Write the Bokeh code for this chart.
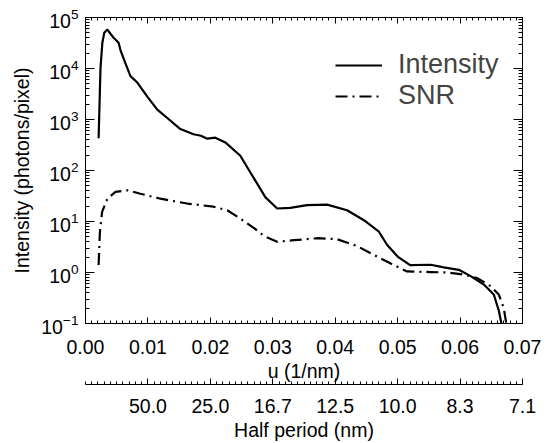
from bokeh.plotting import figure
from bokeh.models import (LinearAxis, LogAxis, FixedTicker, SingleIntervalTicker, LogTicker,
                          NumeralTickFormatter, CustomJSTickFormatter, Legend, LegendItem,
                          Range1d)
from bokeh.embed import file_html
from bokeh.resources import INLINE

# ---------------- data ----------------
u_intensity = [0.0021, 0.0024, 0.0027, 0.0030, 0.0035, 0.0040, 0.0045, 0.0050, 0.0053, 0.0056,
               0.0064, 0.0072, 0.0083, 0.0099, 0.0115, 0.0131, 0.0152, 0.0173, 0.0185, 0.0195,
               0.0208, 0.0224, 0.0248, 0.0267, 0.0288, 0.0307, 0.0328, 0.0355, 0.0387, 0.0419,
               0.0446, 0.0470, 0.0483, 0.0500, 0.0520, 0.0553, 0.0574, 0.0598, 0.0617, 0.0638,
               0.0654, 0.0662, 0.0667]
intensity = [430, 10000, 32000, 50000, 58000, 48000, 40000, 35000, 32000, 23000,
             12600, 7100, 5300, 2800, 1560, 1070, 650, 513, 480, 420,
             440, 355, 195, 80, 30, 18, 18.5, 21, 21.4, 16.6,
             10.6, 6.3, 3.5, 2.05, 1.4, 1.42, 1.26, 1.13, 0.85, 0.58,
             0.37, 0.18, 0.09]

u_snr = [0.0021, 0.0023, 0.00266, 0.0035, 0.0048, 0.0067, 0.0088, 0.0120, 0.0163, 0.0205,
         0.0227, 0.0248, 0.0270, 0.0286, 0.0307, 0.0334, 0.0371, 0.0403, 0.0435, 0.0467,
         0.0489, 0.0515, 0.0553, 0.0579, 0.0606, 0.0627, 0.0649, 0.0662, 0.0670, 0.0674]
snr = [1.4, 6.0, 15.5, 28, 38, 41, 35, 28, 22.5, 19.5,
       16.6, 11.4, 7.4, 5.2, 4.0, 4.3, 4.7, 4.5, 3.3, 2.05,
       1.5, 1.05, 1.02, 1.0, 0.91, 0.78, 0.54, 0.37, 0.2, 0.1]

u_range = (0.0, 0.07)
y_range = (0.1, 1e5)
half_period_ticks = [0.01, 0.02, 0.03, 0.04, 0.05, 0.06, 0.07]
half_period_labels = ["50.0", "25.0", "16.7", "12.5", "10.0", "8.3", "7.1"]

# ---------------- style ----------------
FONT = "Liberation Sans"
FS = "19.5px"

p = figure(width=550, height=443, x_range=Range1d(*u_range), y_range=Range1d(*y_range),
           y_axis_type="log", output_backend="svg", toolbar_location=None,
           min_border_left=85, min_border_top=17, min_border_right=28, min_border_bottom=0)
p.grid.visible = False
p.outline_line_color = "black"
p.background_fill_color = "white"
p.border_fill_color = "white"


def style_axis(ax, major_in, minor_in):
    ax.axis_line_color = "black"
    ax.major_tick_line_color = "black"
    ax.minor_tick_line_color = "black"
    ax.major_tick_in = major_in
    ax.major_tick_out = 0
    ax.minor_tick_in = minor_in
    ax.minor_tick_out = 0
    ax.major_label_text_font = FONT
    ax.major_label_text_font_size = FS
    ax.major_label_text_color = "black"
    ax.axis_label_text_font = FONT
    ax.axis_label_text_font_size = FS
    ax.axis_label_text_font_style = "normal"
    ax.axis_label_text_color = "black"


blank = CustomJSTickFormatter(code="return '';")

# main x axis
xa = p.xaxis[0]
xa.ticker = SingleIntervalTicker(interval=0.01, num_minor_ticks=10)
xa.formatter = NumeralTickFormatter(format="0.00")
style_axis(xa, 6, 3)
xa.major_label_standoff = 16
xa.axis_label = "u (1/nm)"
xa.axis_label_standoff = 3

# y axis
ya = p.yaxis[0]
ya.ticker = LogTicker(num_minor_ticks=10)
style_axis(ya, 9, 4)
ya.major_label_standoff = 7
ya.axis_label = "Intensity (photons/pixel)"
ya.axis_label_standoff = 5

# top mirror axis
top = LinearAxis(ticker=SingleIntervalTicker(interval=0.01, num_minor_ticks=10), formatter=blank)
style_axis(top, 6, 3)
top.major_label_standoff = 0
p.add_layout(top, "above")

# right mirror axis
right = LogAxis(ticker=LogTicker(num_minor_ticks=10), formatter=blank)
style_axis(right, 9, 4)
right.major_label_standoff = 0
p.add_layout(right, "right")

# second x axis: half period
hp = LinearAxis(
    ticker=FixedTicker(ticks=half_period_ticks,
                       minor_ticks=[i / 1000 for i in range(0, 71)]),
    formatter=CustomJSTickFormatter(
        args=dict(tks=half_period_ticks, lbls=half_period_labels),
        code="const i = tks.findIndex(t => Math.abs(t - tick) < 1e-9); return i >= 0 ? lbls[i] : '';"))
style_axis(hp, 6, 3)
hp.major_label_standoff = 14
hp.axis_label = "Half period (nm)"
hp.axis_label_standoff = 3
p.add_layout(hp, "below")

# curves
r1 = p.line(u_intensity, intensity, line_color="black", line_width=2.2)
r2 = p.line(u_snr, snr, line_color="black", line_width=2.2, line_dash="12 5 2 5")

legend = Legend(items=[LegendItem(label="Intensity", renderers=[r1]),
                       LegendItem(label="SNR", renderers=[r2])],
                location=(250, 212), label_text_font=FONT, label_text_font_size="27px",
                glyph_width=47, glyph_height=26, label_standoff=16, label_height=26,
                border_line_color=None, background_fill_alpha=0,
                padding=0, spacing=0, margin=0)
p.add_layout(legend)

open("out.html", "w").write(file_html(p, INLINE))
